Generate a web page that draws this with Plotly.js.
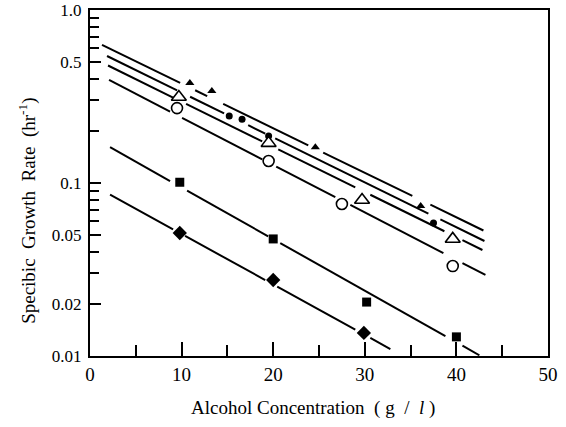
<!DOCTYPE html>
<html>
<head>
<meta charset="utf-8">
<script src="https://cdn.plot.ly/plotly-3.0.1.min.js"></script>
<style>html,body{margin:0;padding:0;background:#fff;}#chart{width:566px;height:427px;}</style>
</head>
<body>
<div id="chart"></div>
<script>
// ---- measured data points ----
var triFillX = [10.9, 13.3, 24.6, 36.1];
var triFillY = [0.378, 0.340, 0.161, 0.0736];
var circFillX = [15.2, 16.6, 19.5, 37.5];
var circFillY = [0.244, 0.234, 0.187, 0.0587];
var triOpenX = [9.7, 19.5, 29.7, 39.6];
var triOpenY = [0.314, 0.170, 0.0797, 0.0475];
var circOpenX = [9.5, 19.5, 27.5, 39.6];
var circOpenY = [0.271, 0.134, 0.0756, 0.0331];
var squareX = [9.8, 20.0, 30.2, 40.0];
var squareY = [0.101, 0.0475, 0.0205, 0.0129];
var diamondX = [9.8, 20.0, 29.9];
var diamondY = [0.0514, 0.0275, 0.0136];

// ---- fitted lines: end points [x0, y0, x1, y1] ----
var lineA = [1.31, 0.628, 43.06, 0.0528];
var lineB = [1.86, 0.542, 43.06, 0.0462];
var lineC = [1.86, 0.481, 42.84, 0.041];
var lineD = [2.08, 0.394, 43.17, 0.0294];
var lineE = [2.19, 0.161, 42.51, 0.0101];
var lineF = [2.08, 0.0864, 32.79, 0.01097];
// drawn pieces of each line (x ranges), gaps between them
var piecesA = [[1.31, 9.84], [11.48, 12.79], [14.54, 23.83], [25.46, 35.19], [37.16, 42.95]];
var piecesB = [[1.86, 9.51], [10.93, 14.64], [17.27, 19.13], [20.22, 36.94], [38.25, 43.06]];
var piecesC = [[1.97, 9.18], [10.49, 18.80], [20.55, 28.96], [30.60, 38.69], [40.66, 42.84]];
var piecesD = [[2.08, 8.74], [10.05, 18.80], [20.33, 26.78], [28.42, 38.58], [40.66, 43.17]];
var piecesE = [[2.19, 8.74], [10.60, 19.45], [20.77, 38.80], [40.66, 42.51]];
var piecesF = [[2.19, 9.07], [10.38, 19.13], [20.44, 28.96], [30.60, 32.79]];

var yTickVals = [0.01, 0.02, 0.05, 0.1, 0.5, 1.0];
var yTickText = ['0.01', '0.02', '0.05', '0.1', '0.5', '1.0'];
var yMinorVals = [0.03, 0.04, 0.06, 0.07, 0.08, 0.09, 0.2, 0.3, 0.4, 0.6, 0.7, 0.8, 0.9];
var xTickVals = [0, 10, 20, 30, 40, 50];
var xMinorVals = [5, 15, 25, 35, 45];

function lineTrace(L, pieces) {
  var xs = [], ys = [];
  function yAt(x) { return L[1] * Math.pow(L[3] / L[1], (x - L[0]) / (L[2] - L[0])); }
  pieces.forEach(function (p) {
    xs.push(p[0], p[1], null);
    ys.push(yAt(p[0]), yAt(p[1]), null);
  });
  return {x: xs, y: ys, type: 'scatter', mode: 'lines', line: {color: '#000', width: 2},
    hoverinfo: 'skip', showlegend: false, connectgaps: false};
}
function pts(x, y, sym, size, open) {
  return {x: x, y: y, type: 'scatter', mode: 'markers', showlegend: false, cliponaxis: false,
    marker: {symbol: sym, size: size, color: open ? '#fff' : '#000',
      line: {color: '#000', width: open ? 1.6 : 0}}};
}

var traces = [
  lineTrace(lineA, piecesA), lineTrace(lineB, piecesB), lineTrace(lineC, piecesC),
  lineTrace(lineD, piecesD), lineTrace(lineE, piecesE), lineTrace(lineF, piecesF),
  pts(triFillX, triFillY, 'triangle-up', 8, false),
  pts(circFillX, circFillY, 'circle', 7, false),
  pts(triOpenX, triOpenY, 'triangle-up', 13, true),
  pts(circOpenX, circOpenY, 'circle', 11, true),
  pts(squareX, squareY, 'square', 9, false),
  pts(diamondX, diamondY, 'diamond', 11, false)
];

var serif = 'Liberation Serif, Times New Roman, serif';
var layout = {
  width: 566, height: 427,
  margin: {l: 90, r: 18, t: 10, b: 71},
  paper_bgcolor: '#fff', plot_bgcolor: '#fff',
  font: {family: serif, color: '#000'},
  showlegend: false,
  xaxis: {
    range: [0, 50], showgrid: false, zeroline: false,
    showline: true, linecolor: '#000', linewidth: 2, mirror: true,
    ticks: 'inside', ticklen: 14, tickwidth: 2, tickcolor: '#000',
    tickmode: 'array', tickvals: xTickVals, ticktext: xTickVals.map(String),
    tickfont: {family: serif, size: 19, color: '#000'},
    minor: {tickmode: 'array', tickvals: xMinorVals, ticks: 'inside', ticklen: 11, tickwidth: 2, tickcolor: '#000', showgrid: false}
  },
  yaxis: {
    type: 'log', range: [-2, 0], showgrid: false, zeroline: false,
    showline: true, linecolor: '#000', linewidth: 2, mirror: true,
    ticks: 'inside', ticklen: 11, tickwidth: 2, tickcolor: '#000',
    tickmode: 'array', tickvals: yTickVals, ticktext: yTickText,
    tickfont: {family: serif, size: 17, color: '#000'},
    ticklabelstandoff: 3,
    minor: {tickmode: 'array', tickvals: yMinorVals, ticks: 'inside', ticklen: 9, tickwidth: 2, tickcolor: '#000', showgrid: false}
  },
  annotations: [
    {text: 'Specibic  Growth  Rate  (hr<sup>-1</sup>)', xref: 'paper', yref: 'paper',
     x: -0.135, y: 0.42, textangle: -90, showarrow: false, xanchor: 'center', yanchor: 'middle',
     font: {family: serif, size: 19, color: '#000'}},
    {text: 'Alcohol Concentration \u00a0( g \u00a0/ \u00a0<i>l</i> )', xref: 'paper', yref: 'paper',
     x: 0.487, y: -0.15, showarrow: false, xanchor: 'center', yanchor: 'middle',
     font: {family: serif, size: 19, color: '#000'}}
  ]
};
Plotly.newPlot('chart', traces, layout, {displayModeBar: false, staticPlot: true});
</script>
</body>
</html>
